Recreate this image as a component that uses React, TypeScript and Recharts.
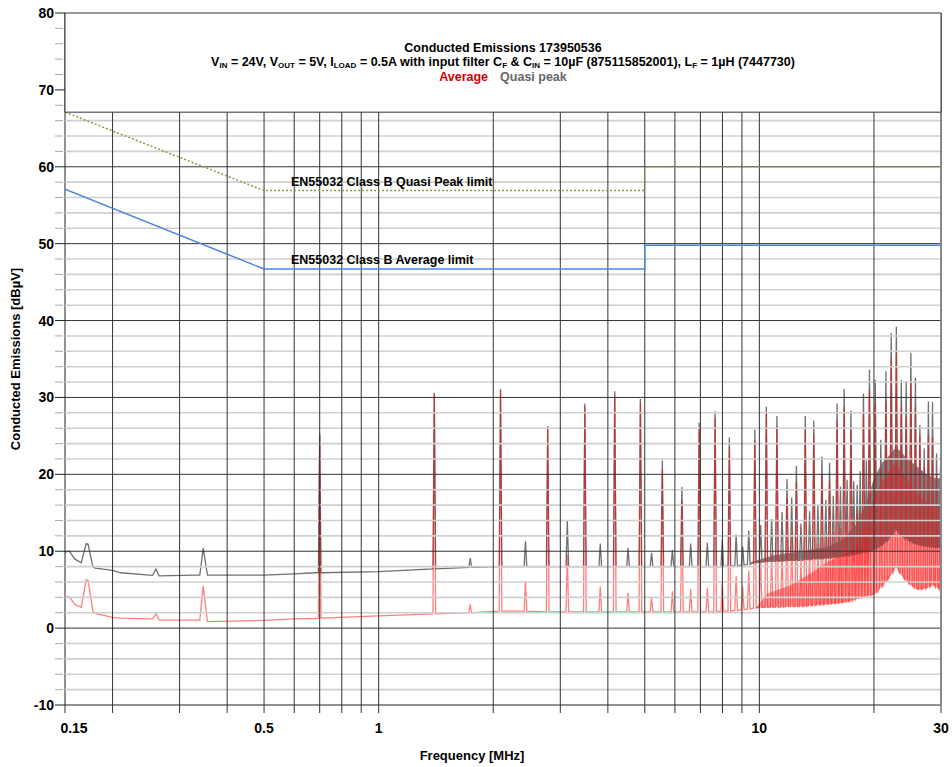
import React from "react";
import {
  ComposedChart,
  Line,
  Area,
  XAxis,
  YAxis,
  ReferenceLine,
  ReferenceArea,
} from "recharts";

// EN55032 class B limits [MHz, dBuV]
const qpLimit: [number, number][] = [
  [0.15, 67.1],
  [0.5, 56.9],
  [5, 56.9],
  [5, 60],
  [30, 60],
];
const avgLimit: [number, number][] = [
  [0.15, 57.1],
  [0.5, 46.7],
  [5, 46.7],
  [5, 49.8],
  [30, 49.8],
];

// noise floor below the first harmonic [MHz, QP, AVG]
const lowFloor: [number, number, number][] = [
  [0.15, 9.9, 4.1],
  [0.154, 10.0, 4.1],
  [0.159, 9.0, 3.1],
  [0.1655, 8.5, 2.7],
  [0.1705, 11.0, 6.3],
  [0.1725, 10.9, 6.2],
  [0.1775, 8.0, 2.2],
  [0.18, 7.8, 1.9],
  [0.2, 7.5, 1.4],
  [0.21, 7.2, 1.3],
  [0.25, 6.9, 1.2],
  [0.255, 6.9, 1.2],
  [0.26, 7.7, 1.9],
  [0.265, 6.8, 1.05],
  [0.33, 6.9, 1.05],
  [0.339, 6.9, 1.05],
  [0.346, 10.4, 5.5],
  [0.355, 6.9, 0.85],
  [0.5, 6.9, 1.0],
  [0.6, 7.05, 1.2],
  [0.68, 7.2, 1.25],
  [1.0, 7.35, 1.6],
  [30, 10.5, 5.0],
];

// switching harmonics [MHz, QP floor, QP peak, AVG floor, AVG peak]
const harmonics: [number, number, number, number, number][] = [
  [0.7, 7.2, 25.3, 1.3, 25.0],
  [1.4, 7.7, 30.6, 1.85, 30.4],
  [2.09, 8.0, 31.1, 2.2, 30.9],
  [2.78, 8.0, 26.3, 2.1, 25.9],
  [3.48, 8.0, 29.2, 2.1, 28.9],
  [4.17, 8.0, 30.8, 2.1, 30.3],
  [4.87, 8.0, 29.8, 2.1, 29.4],
  [5.56, 8.0, 21.8, 2.1, 20.6],
  [6.26, 8.0, 18.4, 2.1, 16.7],
  [6.95, 8.0, 26.7, 2.1, 26.1],
  [7.65, 8.0, 28.2, 2.1, 27.4],
  [8.34, 8.1, 24.8, 2.2, 23.6],
  [9.04, 8.2, 10.6, 2.4, 5.4],
  [9.73, 8.5, 25.8, 2.6, 24.4],
  [10.43, 8.7, 28.8, 2.7, 27.9],
  [11.12, 8.7, 27.6, 2.7, 26.3],
  [11.82, 8.8, 19.4, 2.8, 16.9],
  [12.51, 8.8, 21.1, 2.8, 19.0],
  [13.2, 8.9, 27.6, 2.8, 25.8],
  [13.9, 9.0, 27.0, 2.9, 25.3],
  [14.6, 9.0, 22.3, 3.0, 19.9],
  [15.29, 9.1, 21.5, 3.1, 19.1],
  [16.0, 9.2, 29.2, 3.2, 26.9],
  [16.7, 9.3, 31.1, 3.3, 28.8],
  [17.4, 9.4, 28.3, 3.4, 25.8],
  [18.07, 9.6, 18.6, 3.8, 14.9],
  [18.77, 9.8, 30.5, 4.0, 27.9],
  [19.46, 10.0, 33.6, 4.2, 30.9],
  [20.16, 10.2, 32.3, 4.5, 29.3],
  [20.85, 10.7, 24.5, 5.2, 21.0],
  [21.5, 11.2, 33.4, 6.0, 29.5],
  [22.2, 12.0, 38.4, 7.0, 35.1],
  [22.9, 12.8, 39.2, 8.0, 35.8],
  [23.6, 12.0, 32.3, 7.0, 28.8],
  [24.3, 11.6, 32.1, 6.2, 27.5],
  [25.0, 11.2, 35.8, 5.6, 31.9],
  [25.7, 11.0, 32.6, 5.2, 28.8],
  [26.4, 10.8, 26.4, 5.0, 25.1],
  [27.1, 10.7, 23.4, 5.1, 21.0],
  [27.8, 10.6, 29.5, 5.3, 25.1],
  [28.5, 10.5, 29.4, 5.6, 24.9],
  [29.2, 10.5, 22.7, 5.3, 20.1],
  [29.9, 10.5, 21.0, 5.0, 16.0],
];

// smaller spikes between the harmonics
const halfHarmonics: [number, number, number, number, number][] = [
  [1.74, 7.9, 9.1, 2.0, 3.1],
  [2.43, 8.0, 11.3, 2.2, 6.1],
  [3.13, 8.0, 14.0, 2.1, 9.5],
  [3.82, 8.0, 11.0, 2.1, 5.4],
  [4.52, 8.0, 10.4, 2.1, 4.6],
  [5.21, 8.0, 9.8, 2.1, 4.0],
  [5.91, 8.0, 10.2, 2.1, 4.8],
  [6.6, 8.0, 11.0, 2.1, 5.1],
  [7.3, 8.0, 11.1, 2.1, 5.2],
  [7.99, 8.0, 11.5, 2.2, 5.9],
  [8.69, 8.1, 12.2, 2.3, 6.8],
  [9.38, 8.3, 12.7, 2.5, 7.5],
  [10.08, 8.6, 13.4, 2.7, 8.8],
  [10.77, 8.7, 14.2, 2.7, 9.7],
  [11.47, 8.7, 15.1, 2.7, 10.2],
  [12.16, 8.8, 17.0, 2.8, 12.4],
  [12.86, 8.8, 13.6, 2.8, 8.9],
  [13.55, 8.9, 15.2, 2.9, 10.2],
  [14.25, 9.0, 15.9, 3.0, 11.0],
  [14.95, 9.1, 16.7, 3.1, 12.0],
  [15.64, 9.2, 17.2, 3.2, 12.5],
  [16.33, 9.3, 18.4, 3.3, 13.0],
  [17.0, 9.4, 19.3, 3.4, 14.0],
  [17.7, 9.5, 19.1, 3.6, 14.0],
  [18.4, 9.7, 20.4, 3.9, 15.0],
  [19.1, 9.9, 21.8, 4.1, 16.0],
];

// dense emission envelopes at high frequency [MHz, low, high]
const qpBand: [number, number, number][] = [
  [9.5, 8.4, 8.6],
  [11, 8.7, 9.5],
  [13, 8.9, 10.0],
  [15, 9.1, 10.5],
  [16.5, 9.3, 11.5],
  [18, 9.6, 13.5],
  [19, 9.9, 16],
  [20, 10.2, 19.5],
  [21, 10.8, 21.5],
  [22, 11.8, 22.5],
  [22.8, 12.8, 23.5],
  [23.5, 12.0, 23],
  [24.5, 11.5, 22],
  [26, 10.8, 21],
  [27.5, 10.6, 20],
  [29, 10.5, 19.5],
  [30, 10.5, 19.5],
];
const avgBand: [number, number, number][] = [
  [9.8, 2.6, 2.7],
  [10.5, 2.7, 4.5],
  [12, 2.8, 5.5],
  [13, 2.8, 6.5],
  [14, 3.0, 7.5],
  [15, 3.1, 8.5],
  [16, 3.2, 9.2],
  [17, 3.4, 9.8],
  [18, 3.8, 11],
  [19, 4.1, 14],
  [20, 4.4, 17],
  [21, 5.5, 19],
  [22, 6.6, 20.5],
  [22.8, 8.0, 21.5],
  [23.5, 7.0, 20.5],
  [24.5, 5.9, 19.3],
  [26, 5.0, 17.5],
  [27.5, 5.2, 16.5],
  [28.5, 5.6, 16],
  [30, 5.0, 16],
];

const xLabels = [0.15, 0.5, 1, 10, 30];
const gridFreqs = [
  0.2, 0.3, 0.4, 0.5, 0.6, 0.7, 0.8, 0.9, 1, 2, 3, 4, 5, 6, 7, 8, 9, 10, 20,
];
const xTicks = [0.15, ...gridFreqs, 30];
const yTicks = [
  -10, -8, -6, -4, -2, 0, 2, 4, 6, 8, 10, 12, 14, 16, 18, 20, 22, 24, 26, 28,
  30, 32, 34, 36, 38, 40, 42, 44, 46, 48, 50, 52, 54, 56, 58, 60, 62, 64, 66,
  68, 70, 72, 74, 76, 78, 80,
];
const majorY = [0, 10, 20, 30, 40, 50, 60];
const minorY = yTicks.filter((v) => v % 10 !== 0 && v < 67);
const boxBottom = 67.1;

const FONT = "'Liberation Sans', Arial, Helvetica, sans-serif";
const SPIKE_W = 0.008;

// spectrum trace: floor points plus each spike as foot / peak / foot
const trace: { f: number; qp: number; avg: number }[] = [];
lowFloor.forEach(([f, qp, avg]) => trace.push({ f, qp, avg }));
[...harmonics, ...halfHarmonics].forEach(([f, qf, qp, af, ap]) => {
  trace.push({ f: f * (1 - SPIKE_W), qp: qf, avg: af });
  trace.push({ f, qp, avg: ap });
  trace.push({ f: f * (1 + SPIKE_W), qp: qf, avg: af });
});
trace.sort((a, b) => a.f - b.f);

const qpLimitData = qpLimit.map(([f, v]) => ({ f, v }));
const avgLimitData = avgLimit.map(([f, v]) => ({ f, v }));
const qpBandData = qpBand.map(([f, lo, hi]) => ({ f, r: [lo, hi] }));
const avgBandData = avgBand.map(([f, lo, hi]) => ({ f, r: [lo, hi] }));

const YTick = (props: any) => {
  const { x, y, payload } = props;
  const v = payload.value;
  const major = v % 10 === 0;
  return (
    <g>
      <line
        x1={x + 2}
        x2={major ? x + 12 : x + 10}
        y1={y}
        y2={y}
        stroke={major ? "#222" : "#aaa"}
        strokeWidth={1}
      />
      {major && (
        <text
          x={x + 1}
          y={y + 5}
          textAnchor="end"
          fontFamily={FONT}
          fontWeight="bold"
          fontSize={14}
          fill="#000"
        >
          {v}
        </text>
      )}
    </g>
  );
};

const XTick = (props: any) => {
  const { x, y, payload } = props;
  const v = payload.value;
  const show = xLabels.includes(v);
  return (
    <g>
      <line x1={x} x2={x} y1={y - 8} y2={y} stroke="#333" strokeWidth={1} />
      {show && (
        <text
          x={v === 0.15 ? x + 9 : x}
          y={y + 20}
          textAnchor="middle"
          fontFamily={FONT}
          fontWeight="bold"
          fontSize={14}
          fill="#000"
        >
          {v}
        </text>
      )}
    </g>
  );
};

const textBase: React.CSSProperties = {
  position: "absolute",
  fontFamily: FONT,
  fontWeight: "bold",
  fontSize: 12.5,
  lineHeight: "16px",
  whiteSpace: "nowrap",
  color: "#000",
};

const Sub = ({ children }: { children: React.ReactNode }) => (
  <span style={{ fontSize: 8, verticalAlign: "-2px" }}>{children}</span>
);

export default function App() {
  return (
    <div
      style={{
        position: "absolute",
        left: 0,
        top: 0,
        width: 952,
        height: 767,
        background: "#fff",
      }}
    >
      <ComposedChart
        width={952}
        height={767}
        margin={{ top: 13, right: 11, left: 0, bottom: 0 }}
      >
        <XAxis
          dataKey="f"
          type="number"
          scale="log"
          domain={[0.15, 30]}
          allowDataOverflow
          ticks={xTicks}
          interval={0}
          tick={<XTick />}
          tickLine={false}
          tickSize={8}
          tickMargin={0}
          height={62}
          axisLine={{ stroke: "#222" }}
        />
        <YAxis
          type="number"
          domain={[-10, 80]}
          allowDataOverflow
          ticks={yTicks}
          interval={0}
          tick={<YTick />}
          tickLine={false}
          tickSize={10}
          tickMargin={2}
          width={65}
          axisLine={{ stroke: "#222" }}
        />

        <Area
          data={qpBandData}
          dataKey="r"
          type="linear"
          stroke="none"
          fill="#808080"
          fillOpacity={1}
          isAnimationActive={false}
        />
        <Line
          data={trace}
          dataKey="qp"
          type="linear"
          stroke="#707070"
          strokeWidth={1.3}
          dot={false}
          isAnimationActive={false}
        />
        <Area
          data={avgBandData}
          dataKey="r"
          type="linear"
          stroke="none"
          fill="#ff0000"
          fillOpacity={0.4}
          isAnimationActive={false}
        />
        <Line
          data={trace}
          dataKey="avg"
          type="linear"
          stroke="#ff0000"
          strokeOpacity={0.5}
          strokeWidth={1.3}
          dot={false}
          isAnimationActive={false}
        />

        {minorY.map((v) => (
          <ReferenceLine
            key={`mn${v}`}
            y={v}
            stroke="#cfcfcf"
            strokeWidth={1.6}
            zIndex={1100}
          />
        ))}
        {majorY.map((v) => (
          <ReferenceLine
            key={`mj${v}`}
            y={v}
            stroke="#333"
            strokeWidth={1}
            zIndex={1110}
          />
        ))}
        {gridFreqs.map((f) => (
          <ReferenceLine
            key={`vx${f}`}
            x={f}
            stroke="#333"
            strokeWidth={1}
            zIndex={1120}
          />
        ))}
        <ReferenceLine x={30} stroke="#888" strokeWidth={2} zIndex={1120} />

        <Line
          data={qpLimitData}
          dataKey="v"
          type="linear"
          stroke="#8a9a3c"
          strokeWidth={1.5}
          strokeDasharray="2 2"
          dot={false}
          isAnimationActive={false}
          zIndex={1150}
        />
        <Line
          data={avgLimitData}
          dataKey="v"
          type="linear"
          stroke="#4a88dc"
          strokeWidth={1.5}
          dot={false}
          isAnimationActive={false}
          zIndex={1150}
        />

        <ReferenceArea
          x1={0.15}
          x2={30}
          y1={boxBottom}
          y2={80}
          fill="#fff"
          fillOpacity={1}
          stroke="#333"
          strokeWidth={1}
          zIndex={1200}
        />
      </ComposedChart>

      <div style={{ ...textBase, left: 65, width: 876, top: 39.5, textAlign: "center" }}>
        Conducted Emissions 173950536
      </div>
      <div style={{ ...textBase, left: 65, width: 876, top: 54, textAlign: "center" }}>
        V<Sub>IN</Sub> = 24V, V<Sub>OUT</Sub> = 5V, I<Sub>LOAD</Sub> = 0.5A with
        input filter C<Sub>F</Sub> &amp; C<Sub>IN</Sub> = 10µF (875115852001),
        L<Sub>F</Sub> = 1µH (7447730)
      </div>
      <div style={{ ...textBase, left: 65, width: 876, top: 68.5, textAlign: "center" }}>
        <span style={{ color: "#d40000" }}>Average</span>
        <span style={{ color: "#666", marginLeft: 12 }}>Quasi peak</span>
      </div>

      <div style={{ ...textBase, left: 291, top: 174 }}>
        EN55032 Class B Quasi Peak limit
      </div>
      <div style={{ ...textBase, left: 291, top: 252 }}>
        EN55032 Class B Average limit
      </div>

      <div
        style={{
          ...textBase,
          fontSize: 13,
          left: 472 - 100,
          width: 200,
          top: 747.5,
          textAlign: "center",
        }}
      >
        Frequency [MHz]
      </div>
      <div
        style={{
          ...textBase,
          fontSize: 13,
          left: 15.5 - 150,
          width: 300,
          top: 359 - 8,
          textAlign: "center",
          transform: "rotate(-90deg)",
        }}
      >
        Conducted Emissions [dBµV]
      </div>
    </div>
  );
}
